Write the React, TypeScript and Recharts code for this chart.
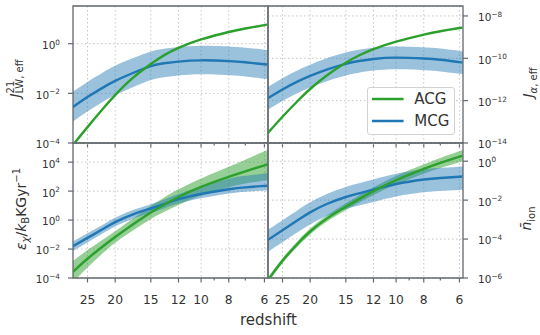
import React from 'react';
import { ComposedChart, Line, Area, XAxis, YAxis, CartesianGrid, ReferenceArea, Legend } from 'recharts';

const W = 540;
const H = 335;
const FONT = '"DejaVu Sans", "Liberation Sans", sans-serif';
const TEXT = '#333333';
const FRAME = '#62686e';
const GRID = '#c6c6c6';
const GREEN = '#2ca02c';
const BLUE = '#1f77b4';

// redshift sample points and axis ticks
const Z = [28.1, 25, 22, 20, 17.5, 15, 13.5, 12, 10, 8, 7, 6, 5.83];
const Z_DOMAIN = [5.83, 28.1];
const Z_MAJOR = [25, 20, 15, 12, 10, 8, 6];
const Z_TICKS = [25, 20, 15, 12, 10, 9, 8, 7, 6];

// values are log10 exponents
// panel 1: J21_LW,eff
const JLW_ACG = [-4.08, -3.36, -2.6, -2.07, -1.42, -0.82, -0.47, -0.17, 0.17, 0.47, 0.61, 0.75, 0.78];
const JLW_MCG = [-2.55, -2.15, -1.76, -1.5, -1.2, -0.9, -0.79, -0.72, -0.67, -0.7, -0.75, -0.83, -0.85];
const JLW_MCG_HI = [-1.93, -1.54, -1.15, -0.89, -0.6, -0.31, -0.2, -0.13, -0.08, -0.11, -0.16, -0.24, -0.26];
const JLW_MCG_LO = [-3.13, -2.73, -2.33, -2.07, -1.77, -1.46, -1.35, -1.28, -1.23, -1.27, -1.32, -1.41, -1.43];

// panel 2: J_alpha,eff
const JA_ACG = [-13.52, -12.76, -11.98, -11.45, -10.81, -10.21, -9.87, -9.57, -9.21, -8.88, -8.72, -8.57, -8.54];
const JA_MCG = [-11.88, -11.47, -11.08, -10.83, -10.53, -10.26, -10.13, -10.03, -9.97, -10.01, -10.07, -10.18, -10.2];
const JA_MCG_HI = [-11.35, -10.94, -10.55, -10.3, -10.0, -9.73, -9.6, -9.5, -9.44, -9.48, -9.54, -9.65, -9.67];
const JA_MCG_LO = [-12.43, -12.02, -11.63, -11.38, -11.08, -10.81, -10.68, -10.58, -10.52, -10.56, -10.62, -10.73, -10.75];

// panel 3: epsilon_X / k_B
const EX_ACG = [-3.57, -2.67, -1.79, -1.17, -0.36, 0.52, 1.05, 1.59, 2.29, 2.98, 3.37, 3.78, 3.86];
const EX_ACG_HI = [-2.82, -2.07, -1.32, -0.77, 0.04, 0.97, 1.55, 2.12, 2.87, 3.68, 4.17, 4.75, 4.86];
const EX_ACG_LO = [-4.32, -3.27, -2.26, -1.57, -0.78, 0.07, 0.55, 1.04, 1.69, 2.26, 2.52, 2.73, 2.78];
const EX_MCG = [-1.8, -1.23, -0.6, -0.14, 0.36, 0.8, 1.1, 1.44, 1.8, 2.13, 2.26, 2.36, 2.37];
const EX_MCG_HI = [-1.47, -0.91, -0.3, 0.16, 0.66, 1.1, 1.42, 1.8, 2.28, 2.85, 3.06, 3.22, 3.25];
const EX_MCG_LO = [-2.13, -1.55, -0.9, -0.44, 0.06, 0.5, 0.8, 1.14, 1.5, 1.83, 1.96, 2.05, 2.06];

// panel 4: n_ion
const NI_ACG = [-6.1, -5.11, -4.2, -3.61, -2.95, -2.34, -1.95, -1.54, -0.98, -0.4, -0.09, 0.23, 0.29];
const NI_ACG_HI = [-5.97, -4.98, -4.06, -3.46, -2.79, -2.16, -1.76, -1.34, -0.76, -0.16, 0.17, 0.51, 0.57];
const NI_ACG_LO = [-6.23, -5.24, -4.34, -3.76, -3.11, -2.52, -2.14, -1.74, -1.2, -0.64, -0.35, -0.05, 0.01];
const NI_MCG = [-4.04, -3.55, -3.01, -2.63, -2.2, -1.84, -1.65, -1.46, -1.17, -0.94, -0.86, -0.8, -0.79];
const NI_MCG_HI = [-3.52, -3.03, -2.49, -2.11, -1.68, -1.32, -1.13, -0.94, -0.65, -0.42, -0.34, -0.28, -0.27];
const NI_MCG_LO = [-4.64, -4.16, -3.63, -3.25, -2.82, -2.45, -2.27, -2.09, -1.81, -1.6, -1.53, -1.48, -1.47];

// y axis domains and ticks
const JLW_DOMAIN = [1e-4, 33];
const JLW_TICKS = [1e-4, 1e-2, 1];
const JA_DOMAIN = [1e-14, 2.95e-8];
const JA_TICKS = [1e-14, 1e-12, 1e-10, 1e-8];
const EX_DOMAIN = [1e-4, 2.1e5];
const EX_TICKS = [1e-4, 1e-2, 1, 1e2, 1e4];
const NI_DOMAIN = [1e-6, 8.6];
const NI_TICKS = [1e-6, 1e-4, 1e-2, 1];

const p10 = (v: number) => Math.pow(10, v);

function buildRows(acg: number[], mcg: number[], mcgLo: number[], mcgHi: number[], acgLo?: number[], acgHi?: number[]) {
  return Z.map((z, i) => ({
    z,
    acg: p10(acg[i]),
    mcg: p10(mcg[i]),
    mcgBand: [p10(mcgLo[i]), p10(mcgHi[i])],
    acgBand: acgLo && acgHi ? [p10(acgLo[i]), p10(acgHi[i])] : undefined,
  }));
}

const ROWS_JLW = buildRows(JLW_ACG, JLW_MCG, JLW_MCG_LO, JLW_MCG_HI);
const ROWS_JA = buildRows(JA_ACG, JA_MCG, JA_MCG_LO, JA_MCG_HI);
const ROWS_EX = buildRows(EX_ACG, EX_MCG, EX_MCG_LO, EX_MCG_HI, EX_ACG_LO, EX_ACG_HI);
const ROWS_NI = buildRows(NI_ACG, NI_MCG, NI_MCG_LO, NI_MCG_HI, NI_ACG_LO, NI_ACG_HI);

const XTick = (props: any) => {
  const { x, y, payload, showLabel } = props;
  const v = payload.value;
  const major = Z_MAJOR.includes(v);
  return (
    <g>
      <line x1={x} x2={x} y1={y} y2={y + (major ? 4.5 : 2.5)} stroke={FRAME} strokeWidth={1.2} />
      {showLabel && major ? (
        <text x={x} y={y + 25.5} textAnchor="middle" fontSize={12.3} fill={TEXT}>
          {v}
        </text>
      ) : null}
    </g>
  );
};

const YTick = (props: any) => {
  const { x, y, payload, side } = props;
  const e = Math.round(Math.log10(payload.value));
  const exp = e < 0 ? `\u2212${-e}` : `${e}`;
  return (
    <text x={x} y={y + 5.4} textAnchor={side === 'left' ? 'end' : 'start'} fontSize={10.5} fill={TEXT}>
      10
      <tspan dy={-4.4} fontSize={7.3}>
        {exp}
      </tspan>
    </text>
  );
};

const rot = (x: number, y: number) => `rotate(-90 ${x} ${y})`;

const TitleJLW = (props: any) => {
  const vb = props.viewBox;
  const x = vb.x + vb.width - 53.5;
  const y = vb.y + vb.height / 2 + 4;
  return (
    <text x={x} y={y} transform={rot(x, y)} textAnchor="middle" fontSize={14} fill={TEXT}>
      <tspan fontStyle="italic">J</tspan>
      <tspan fontSize={10} dy={-6}>21</tspan>
      <tspan fontSize={10} dx={-12.7} dy={9.5}>LW, eff</tspan>
    </text>
  );
};

const TitleEX = (props: any) => {
  const vb = props.viewBox;
  const x = vb.x + vb.width - 47.5;
  const y = vb.y + vb.height / 2 - 1.5;
  return (
    <text x={x} y={y} transform={rot(x, y)} textAnchor="middle" fontSize={14} fill={TEXT}>
      <tspan fontStyle="italic">ε</tspan>
      <tspan fontStyle="italic" fontSize={10} dy={3}>χ</tspan>
      <tspan dy={-3}>/</tspan>
      <tspan fontStyle="italic">k</tspan>
      <tspan fontSize={10} dy={3}>B</tspan>
      <tspan dy={-3}>KGyr</tspan>
      <tspan fontSize={10} dy={-6}>{'\u22121'}</tspan>
    </text>
  );
};

const TitleJA = (props: any) => {
  const vb = props.viewBox;
  const x = vb.x + 70;
  const y = vb.y + vb.height / 2 + 8;
  return (
    <text x={x} y={y} transform={rot(x, y)} textAnchor="middle" fontSize={14} fill={TEXT}>
      <tspan fontStyle="italic">J</tspan>
      <tspan fontSize={10} dy={3.5}>
        <tspan fontStyle="italic">α</tspan>, eff
      </tspan>
    </text>
  );
};

const TitleNI = (props: any) => {
  const vb = props.viewBox;
  const x = vb.x + 68;
  const y = vb.y + vb.height / 2 + 8;
  return (
    <text x={x} y={y} transform={rot(x, y)} textAnchor="middle" fontSize={14} fill={TEXT}>
      <tspan fontStyle="italic">{'n\u0304'}</tspan>
      <tspan fontSize={10} dy={3.5}>ion</tspan>
    </text>
  );
};

const RedshiftLabel = (props: any) => {
  const vb = props.viewBox;
  return (
    <text x={vb.x + vb.width + 0.5} y={vb.y + 47} textAnchor="middle" fontSize={15} fill={TEXT}>
      redshift
    </text>
  );
};

const LegendBox = (props: any) => {
  const items = [...(props.payload || [])]
    .filter((p: any) => p.type !== 'none')
    .sort((a: any, b: any) => String(a.value).localeCompare(String(b.value)));
  return (
    <div
      style={{
        position: 'relative',
        width: 88,
        height: 48,
        boxSizing: 'border-box',
        border: '1px solid #d2d2d2',
        borderRadius: 3,
        background: 'rgba(255,255,255,0.85)',
        fontFamily: FONT,
      }}
    >
      {items.map((it: any, i: number) => (
        <div key={String(it.value)} style={{ position: 'absolute', left: -1, top: 1.3 + i * 21.7, width: 88, height: 20 }}>
          <svg width={40} height={20} style={{ position: 'absolute', left: 0, top: 0 }}>
            <line x1={5} x2={36.6} y1={10} y2={10} stroke={it.color} strokeWidth={2.5} />
          </svg>
          <span style={{ position: 'absolute', left: 47.3, top: 0, fontSize: 15, lineHeight: '20px', color: TEXT, whiteSpace: 'nowrap' }}>
            {it.value}
          </span>
        </div>
      ))}
    </div>
  );
};

type PanelProps = {
  rows: any[];
  yDomain: number[];
  yTicks: number[];
  col: 0 | 1;
  row: 0 | 1;
  title: (p: any) => React.ReactElement;
  legend?: boolean;
};

function Panel({ rows, yDomain, yTicks, col, row, title, legend }: PanelProps) {
  const left = col === 0;
  const top = row === 0;
  const plotL = left ? 73 : 268;
  const plotR = left ? 268 : 463;
  const plotT = top ? 6 : 143;
  const plotB = top ? 143 : 278;
  const yW = left ? 45 : 60;
  const xH = 30;
  const margin = {
    left: left ? plotL - yW : plotL,
    right: left ? W - plotR : W - plotR - yW,
    top: plotT,
    bottom: H - plotB - xH,
  };
  const hasAcgBand = rows[0].acgBand !== undefined;
  return (
    <div style={{ position: 'absolute', left: 0, top: 0 }}>
      <ComposedChart width={W} height={H} margin={margin} data={rows}>
        <CartesianGrid stroke={GRID} strokeDasharray="1.5 2.5" strokeWidth={1} verticalValues={Z_MAJOR} />
        <XAxis
          dataKey="z"
          type="number"
          scale="log"
          domain={Z_DOMAIN}
          reversed
          allowDataOverflow
          ticks={Z_TICKS}
          interval={0}
          tickSize={0}
          tickMargin={0}
          tickLine={false}
          axisLine={false}
          height={xH}
          tick={(p: any) => <XTick {...p} showLabel={!top} />}
          label={!top && left ? RedshiftLabel : undefined}
        />
        <YAxis
          type="number"
          scale="log"
          domain={yDomain}
          allowDataOverflow
          ticks={yTicks}
          interval={0}
          orientation={left ? 'left' : 'right'}
          width={yW}
          tickSize={5}
          tickMargin={left ? 8 : 10}
          stroke={FRAME}
          tickLine={{ stroke: FRAME, strokeWidth: 1.2 }}
          axisLine={false}
          tick={(p: any) => <YTick {...p} side={left ? 'left' : 'right'} />}
          label={title}
        />
        {hasAcgBand ? (
          <Area
            dataKey="acgBand"
            type="natural"
            stroke="none"
            fill={GREEN}
            fillOpacity={0.5}
            isAnimationActive={false}
            legendType="none"
            activeDot={false}
          />
        ) : null}
        <Area
          dataKey="mcgBand"
          type="natural"
          stroke="none"
          fill={BLUE}
          fillOpacity={0.45}
          isAnimationActive={false}
          legendType="none"
          activeDot={false}
        />
        <Line
          dataKey="mcg"
          name="MCG"
          type="natural"
          stroke={BLUE}
          strokeWidth={2.4}
          dot={false}
          activeDot={false}
          isAnimationActive={false}
        />
        <Line
          dataKey="acg"
          name="ACG"
          type="natural"
          stroke={GREEN}
          strokeWidth={2.4}
          dot={false}
          activeDot={false}
          isAnimationActive={false}
        />
        <ReferenceArea
          x1={Z_DOMAIN[1]}
          x2={Z_DOMAIN[0]}
          y1={yDomain[0]}
          y2={yDomain[1]}
          fill="none"
          stroke={FRAME}
          strokeWidth={1.3}
          ifOverflow="visible"
        />
        {legend ? (
          <Legend
            layout="horizontal"
            verticalAlign="middle"
            align="center"
            content={LegendBox}
            wrapperStyle={{ position: 'absolute', left: 367, top: 87, width: 88, height: 48, margin: 0, padding: 0 }}
          />
        ) : null}
      </ComposedChart>
    </div>
  );
}

export default function App() {
  return (
    <div style={{ position: 'absolute', left: 0, top: 0, width: W, height: H, fontFamily: FONT, background: '#ffffff' }}>
      <Panel rows={ROWS_JLW} yDomain={JLW_DOMAIN} yTicks={JLW_TICKS} col={0} row={0} title={TitleJLW} />
      <Panel rows={ROWS_JA} yDomain={JA_DOMAIN} yTicks={JA_TICKS} col={1} row={0} title={TitleJA} legend />
      <Panel rows={ROWS_EX} yDomain={EX_DOMAIN} yTicks={EX_TICKS} col={0} row={1} title={TitleEX} />
      <Panel rows={ROWS_NI} yDomain={NI_DOMAIN} yTicks={NI_TICKS} col={1} row={1} title={TitleNI} />
    </div>
  );
}
